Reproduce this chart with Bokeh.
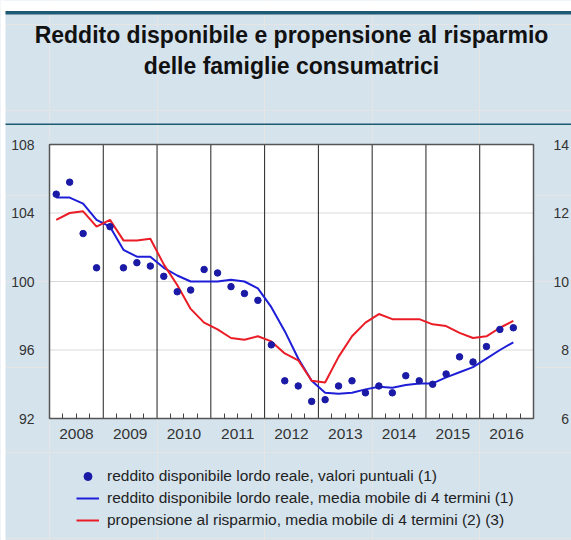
from bokeh.plotting import figure
from bokeh.models import (Range1d, FixedTicker, Legend, LegendItem, LinearAxis)
from bokeh.core.properties import value
from bokeh.embed import file_html
from bokeh.resources import INLINE

# ---------------- data ----------------
years = [2008, 2009, 2010, 2011, 2012, 2013, 2014, 2015, 2016]
year_labels = ["2008", "2009", "2010", "2011", "2012", "2013", "2014", "2015", "2016"]
periods = [f"{y}Q{q}" for y in years for q in (1, 2, 3, 4)][:35]

# reddito disponibile lordo reale, valori puntuali (left axis)
reddito_punti = [105.1, 105.8, 102.8, 100.8,
                 103.2, 100.8, 101.1, 100.9,
                 100.3, 99.4, 99.5, 100.7,
                 100.5, 99.7, 99.3, 98.9,
                 96.3, 94.2, 93.9, 93.0,
                 93.1, 93.9, 94.2, 93.5,
                 93.9, 93.5, 94.5, 94.2,
                 94.0, 94.6, 95.6, 95.3,
                 96.2, 97.2, 97.3]
# reddito disponibile lordo reale, media mobile di 4 termini (left axis)
reddito_media = [104.9, 104.9, 104.55, 103.6,
                 103.2, 101.85, 101.45, 101.45,
                 100.8, 100.35, 100.0, 100.0,
                 100.0, 100.1, 100.0, 99.6,
                 98.5, 97.1, 95.5, 94.2,
                 93.5, 93.45, 93.5, 93.7,
                 93.85, 93.8, 93.95, 94.05,
                 94.05, 94.4, 94.7, 95.0,
                 95.5, 96.0, 96.45]
# propensione al risparmio, media mobile di 4 termini (right axis)
propensione = [11.8, 12.0, 12.05, 11.6,
               11.8, 11.2, 11.2, 11.25,
               10.5, 9.9, 9.2, 8.8,
               8.6, 8.35, 8.3, 8.4,
               8.25, 7.9, 7.7, 7.1,
               7.05, 7.8, 8.4, 8.8,
               9.05, 8.9, 8.9, 8.9,
               8.75, 8.7, 8.5, 8.35,
               8.4, 8.65, 8.85]

left_ticks = [92, 96, 100, 104, 108]
right_ticks = [6, 8, 10, 12, 14]
title_lines = ["Reddito disponibile e propensione al risparmio",
               "delle famiglie consumatrici"]
legend_labels = ["reddito disponibile lordo reale, valori puntuali (1)",
                 "reddito disponibile lordo reale, media mobile di 4 termini (1)",
                 "propensione al risparmio, media mobile di 4 termini (2) (3)"]

x = [int(s[:4]) + (int(s[-1]) - 0.5) / 4 for s in periods]

# ---------------- layout / style ----------------
FONT = "Liberation Sans"
BG = "#d5e3ed"
TEAL = "#1d5a74"
BLUE = "#1e1ed8"
DOT = "#1a1aa6"
RED = "#ea1c26"
W, H = 571, 540
BOX_L, BOX_R, BOX_T, BOX_B = 49, 533, 144, 418   # plot box in page pixels
X0, X1 = years[0], years[-1] + 1
Y0, Y1 = left_ticks[0], left_ticks[-1]
R0, R1 = right_ticks[0], right_ticks[-1]
kx = (X1 - X0) / (BOX_R - BOX_L)
ky = (Y1 - Y0) / (BOX_B - BOX_T)
kr = (R1 - R0) / (BOX_B - BOX_T)

p = figure(width=W, height=H,
           x_range=Range1d(X0 - BOX_L * kx, X1 + (W - BOX_R) * kx),
           y_range=Range1d(Y0 - (H - BOX_B) * ky, Y1 + BOX_T * ky),
           x_axis_location=None, y_axis_location=None,
           output_backend="svg", toolbar_location=None, min_border=0,
           background_fill_color=BG, border_fill_color=BG, outline_line_color=None)
p.extra_y_ranges = {"right": Range1d(R0 - (H - BOX_B) * kr, R1 + BOX_T * kr),
                    "px": Range1d(H, 0)}
p.extra_x_ranges = {"px": Range1d(0, W)}

# page decorations (pixel ranges): white margins, teal band, title rule
p.quad(left=[0, 0], right=[W, 5], top=[0, 0], bottom=[10.5, H], fill_color="white",
       line_color=None, x_range_name="px", y_range_name="px")
p.quad(left=[5, 5], right=[W, W], top=[10.5, 123], bottom=[14, 124.5], fill_color=TEAL,
       line_color=None, x_range_name="px", y_range_name="px")
p.text(x=[291, 291], y=[34, 65], text=title_lines, text_align="center",
       text_baseline="middle", text_font=value(FONT), text_font_size="23px",
       text_font_style="bold", text_color="#111111", x_range_name="px", y_range_name="px")

# plot box, grid lines, year separators
p.quad(left=[X0], right=[X1], bottom=[Y0], top=[Y1], fill_color="white", line_color=None)
p.segment(x0=[X0] * 3, x1=[X1] * 3, y0=left_ticks[1:-1], y1=left_ticks[1:-1],
          line_color="#d9d9d9", line_width=1)
p.segment(x0=years[1:], x1=years[1:], y0=[Y0] * 8, y1=[Y1] * 8,
          line_color="#222222", line_width=1)

# series
r_blue = p.line(x, reddito_media, color=BLUE, line_width=2)
r_red = p.line(x, propensione, color=RED, line_width=2, y_range_name="right")
# smaller legend key (drawn beneath the first point, hidden by it)
r_dot_key = p.scatter(x[:1], reddito_punti[:1], size=5, color=DOT)
r_dot = p.scatter(x, reddito_punti, size=6.5, color=DOT)

p.quad(left=[X0], right=[X1], bottom=[Y0], top=[Y1], fill_color=None,
       line_color="#555555", line_width=1.5)

# axes (fixed at the plot box edges)
xa = LinearAxis(fixed_location=Y0,
                ticker=FixedTicker(ticks=[y + 0.5 for y in years],
                                   minor_ticks=[y + q / 4 for y in years for q in (1, 3)]),
                major_label_overrides={y + 0.5: lab for y, lab in zip(years, year_labels)},
                axis_line_color=None, major_tick_in=5, major_tick_out=0,
                minor_tick_in=5, minor_tick_out=0,
                major_tick_line_color="#444444", minor_tick_line_color="#444444",
                major_label_standoff=10, major_label_text_font=FONT,
                major_label_text_font_size="15.5px", major_label_text_color="#333333")
p.add_layout(xa, "below")

ya = LinearAxis(fixed_location=X0, ticker=FixedTicker(ticks=left_ticks),
                axis_line_color=None, major_tick_in=0, major_tick_out=0,
                minor_tick_line_color=None, major_label_standoff=15,
                major_label_text_font=FONT, major_label_text_font_size="14px",
                major_label_text_color="#333333")
p.add_layout(ya, "left")

ra = LinearAxis(fixed_location=X1, y_range_name="right", ticker=FixedTicker(ticks=right_ticks),
                axis_line_color=None, major_tick_in=0, major_tick_out=0,
                minor_tick_line_color=None, major_label_standoff=20,
                major_label_text_font=FONT, major_label_text_font_size="14px",
                major_label_text_color="#333333",
                major_label_overrides={v: ("\u2007" + str(v)) if v < 10 else str(v)
                                       for v in right_ticks})
p.add_layout(ra, "right")

# legend
legend = Legend(items=[LegendItem(label=legend_labels[0], renderers=[r_dot_key]),
                       LegendItem(label=legend_labels[1], renderers=[r_blue]),
                       LegendItem(label=legend_labels[2], renderers=[r_red])],
                location=(76, 10), orientation="vertical",
                glyph_width=23, glyph_height=20, label_height=20, spacing=2,
                padding=0, margin=0, label_standoff=8,
                border_line_color=None, background_fill_alpha=0,
                label_text_font=FONT, label_text_font_size="15.5px",
                label_text_color="#222222")
p.add_layout(legend, "center")

open("out.html", "w").write(file_html(p, INLINE))
